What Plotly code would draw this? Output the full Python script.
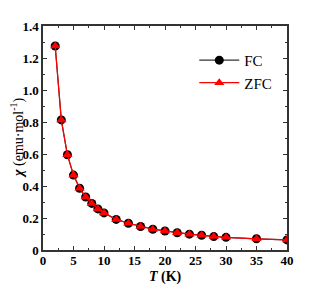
import plotly.graph_objects as go

T = [2, 3, 4, 5, 6, 7, 8, 9, 10, 12, 14, 16, 18, 20, 22, 24, 26, 28, 30, 35, 40]
chi_fc = [1.275, 0.813, 0.595, 0.468, 0.386, 0.331, 0.291, 0.257, 0.232, 0.191, 0.167,
          0.147, 0.130, 0.119, 0.108, 0.099, 0.092, 0.084, 0.079, 0.070, 0.063]
chi_zfc = list(chi_fc)

x_ticks = [0, 5, 10, 15, 20, 25, 30, 35, 40]
x_ticktext = ["0", "5", "10", "15", "20", "25", "30", "35", "40"]
y_ticks = [0, 0.2, 0.4, 0.6, 0.8, 1.0, 1.2, 1.4]
y_ticktext = ["0", "0.2", "0.4", "0.6", "0.8", "1.0", "1.2", "1.4"]

font = "Liberation Serif"

fig = go.Figure()
fig.add_trace(go.Scatter(x=T, y=chi_fc, mode="lines+markers", name="FC",
                         line=dict(color="#333333", width=1.2),
                         marker=dict(symbol="circle", size=9, color="black")))
fig.add_trace(go.Scatter(x=T, y=chi_zfc, mode="lines+markers", name="ZFC",
                         line=dict(color="red", width=1.2),
                         marker=dict(symbol="triangle-up", size=9, color="red")))

axis_common = dict(showline=True, linecolor="#333333", linewidth=1.5, mirror="ticks",
                   ticks="inside", ticklen=4, tickwidth=1, tickcolor="#333333",
                   showgrid=False, zeroline=False, automargin=False,
                   tickfont=dict(family=font, size=13, color="black", weight="bold"))

fig.update_xaxes(range=[0, 40], tickvals=x_ticks, ticktext=x_ticktext,
                 ticklabelstandoff=-2,
                 minor=dict(ticks="inside", ticklen=2.5, dtick=2.5, tick0=0, tickcolor="#333333"),
                 **axis_common)
fig.update_yaxes(range=[0, 1.4], tickvals=y_ticks, ticktext=y_ticktext,
                 minor=dict(ticks="inside", ticklen=2.5, dtick=0.1, tick0=0, tickcolor="#333333"),
                 **axis_common)

fig.add_annotation(text="<b><i>χ</i></b> (emu·mol<sup>-1</sup>)", textangle=-90,
                   xref="paper", yref="paper", x=0, y=0.5, xanchor="center", yanchor="middle",
                   xshift=-26, showarrow=False,
                   font=dict(family=font, size=14, color="black"))
fig.add_annotation(text="<b><i>T</i> (K)</b>",
                   xref="paper", yref="paper", x=0.5, y=0, xanchor="center", yanchor="top",
                   yshift=-17, showarrow=False,
                   font=dict(family=font, size=14, color="black"))

fig.update_layout(width=312, height=287, margin=dict(l=35, r=33, t=18, b=45),
                  plot_bgcolor="white", paper_bgcolor="white",
                  legend=dict(x=0.62, y=0.92, xanchor="left", yanchor="top",
                              bgcolor="rgba(0,0,0,0)",
                              font=dict(family=font, size=15, color="black"),
                              tracegroupgap=4, itemwidth=40))

fig.write_html("out.html")
